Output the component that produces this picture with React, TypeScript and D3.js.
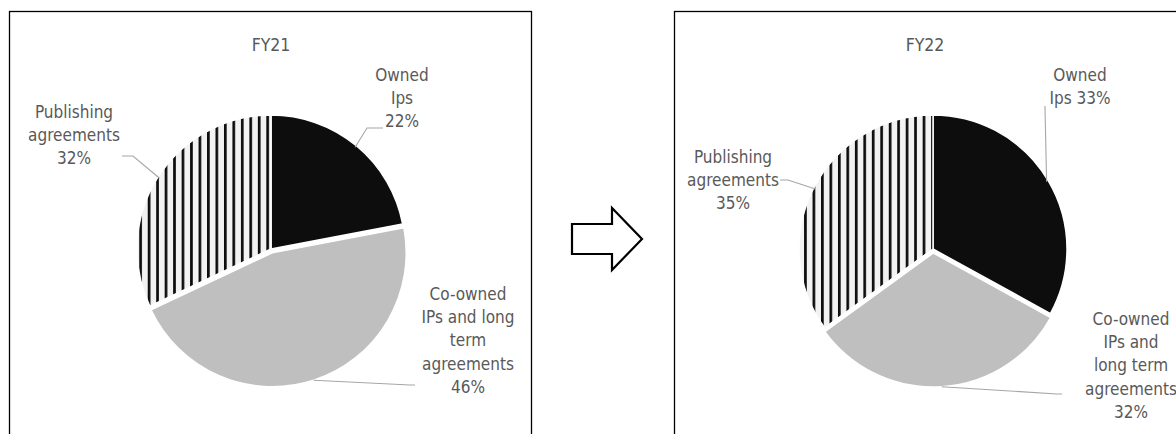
import React from 'react';
import * as d3 from 'd3';

const categories = ['Owned Ips', 'Co-owned IPs and long term agreements', 'Publishing agreements'];
const fy21Values = [22, 46, 32];
const fy22Values = [33, 32, 35];
const titles = ['FY21', 'FY22'];
const fy21Labels = [['Owned', 'Ips', '22%'], ['Co-owned', 'IPs and long', 'term', 'agreements', '46%'], ['Publishing', 'agreements', '32%']];
const fy22Labels = [['Owned', 'Ips 33%'], ['Co-owned', 'IPs and', 'long term', 'agreements', '32%'], ['Publishing', 'agreements', '35%']];

const W = 1176;
const H = 434;
const FONT = "'DejaVu Sans Condensed', 'DejaVu Sans', sans-serif";
const TXT = '#595959';
const LEADER = '#a6a6a6';
const LINE_H = 23.2;

type Panel = {
  id: string;
  title: string;
  values: number[];
  labels: string[][];
  frameX: number;
  frameW: number;
  cx: number;
  cy: number;
  r: number;
  titleX: number;
  stripePhase: number;
  labelPos: { x: number; y: number }[];
  leaders: { pts: [number, number][]; rf: number }[];
};

const panels: Panel[] = [
  {
    id: 'p21',
    title: titles[0],
    values: fy21Values,
    labels: fy21Labels,
    frameX: 9.5,
    frameW: 522,
    cx: 271,
    cy: 249,
    r: 134,
    titleX: 271,
    stripePhase: 267.7,
    labelPos: [
      { x: 402, y: 81 },
      { x: 468, y: 300 },
      { x: 74, y: 118 },
    ],
    leaders: [
      { pts: [[383, 128], [367, 128]], rf: 0.985 },
      { pts: [[415, 385], [410, 385]], rf: 1.0 },
      { pts: [[122, 156], [133, 156]], rf: 0.985 },
    ],
  },
  {
    id: 'p22',
    title: titles[1],
    values: fy22Values,
    labels: fy22Labels,
    frameX: 674.5,
    frameW: 600,
    cx: 933,
    cy: 249,
    r: 134,
    titleX: 925,
    stripePhase: 922.7,
    labelPos: [
      { x: 1080, y: 81 },
      { x: 1131, y: 325 },
      { x: 733, y: 163 },
    ],
    leaders: [
      { pts: [[1045, 106], [1045, 108]], rf: 0.985 },
      { pts: [[1062, 394], [1057, 394]], rf: 1.0 },
      { pts: [[780, 180], [788, 180]], rf: 0.985 },
    ],
  },
];

const fills = ['#0d0d0d', '#bfbfbf', 'STRIPE'];
const explode = [0, 4, 0];

function PiePanel({ p }: { p: Panel }) {
  const pie = d3.pie<number>().sort(null).value((d) => d);
  const arcs = pie(p.values);
  const arc = d3.arc<d3.PieArcDatum<number>>().innerRadius(0).outerRadius(p.r);
  const period = 8.47;
  const lineW = 2.7;
  const patX = p.stripePhase - lineW / 2;
  return (
    <g>
      <defs>
        <pattern id={`stripe-${p.id}`} patternUnits="userSpaceOnUse" x={patX} y={0} width={period} height={10}>
          <rect x={0} y={0} width={period} height={10} fill="#f2f2f2" />
          <rect x={0} y={0} width={lineW} height={10} fill="#0d0d0d" />
        </pattern>
      </defs>
      <rect x={p.frameX} y={11.5} width={p.frameW} height={H} fill="#ffffff" stroke="#000000" strokeWidth={1.3} />
      <text x={p.titleX} y={51} textAnchor="middle" fontFamily={FONT} fontStretch="condensed" fontSize={17.5} fill={TXT}>
        {p.title}
      </text>
      {arcs.map((a, i) => {
        const mid = (a.startAngle + a.endAngle) / 2;
        const dx = explode[i] * Math.sin(mid);
        const dy = -explode[i] * Math.cos(mid);
        return (
          <path
            key={i}
            d={arc(a) || ''}
            transform={`translate(${p.cx + dx},${p.cy + dy})`}
            fill={fills[i] === 'STRIPE' ? `url(#stripe-${p.id})` : fills[i]}
            stroke="#ffffff"
            strokeWidth={1.5}
            strokeLinejoin="round"
          />
        );
      })}
      {arcs.map((a, i) => {
        const mid = (a.startAngle + a.endAngle) / 2;
        const rr = (p.r + explode[i]) * p.leaders[i].rf;
        const ex = p.cx + rr * Math.sin(mid);
        const ey = p.cy - rr * Math.cos(mid);
        const pts = [...p.leaders[i].pts, [ex, ey] as [number, number]];
        return (
          <path
            key={`l${i}`}
            d={d3.line()(pts) || ''}
            fill="none"
            stroke={LEADER}
            strokeWidth={1.1}
          />
        );
      })}
      {p.labels.map((lines, i) => (
        <text
          key={`t${i}`}
          x={p.labelPos[i].x}
          y={p.labelPos[i].y}
          textAnchor="middle"
          fontFamily={FONT}
          fontStretch="condensed"
          fontSize={17}
          fill={TXT}
        >
          {lines.map((ln, j) => (
            <tspan key={j} x={p.labelPos[i].x} y={p.labelPos[i].y + j * LINE_H}>
              {ln}
            </tspan>
          ))}
        </text>
      ))}
    </g>
  );
}

export default function App() {
  const arrow: [number, number][] = [
    [572, 224],
    [612, 224],
    [612, 208],
    [642, 239],
    [612, 270],
    [612, 254],
    [572, 254],
  ];
  return (
    <svg
      width={W}
      height={H}
      viewBox={`0 0 ${W} ${H}`}
      style={{ position: 'absolute', left: 0, top: 0, background: '#ffffff' }}
    >
      <rect x={0} y={0} width={W} height={H} fill="#ffffff" />
      {panels.map((p) => (
        <PiePanel key={p.id} p={p} />
      ))}
      <path d={(d3.line()(arrow) || '') + 'Z'} fill="#ffffff" stroke="#000000" strokeWidth={2.2} strokeLinejoin="miter" />
      <desc>{categories.join(', ')}</desc>
    </svg>
  );
}
